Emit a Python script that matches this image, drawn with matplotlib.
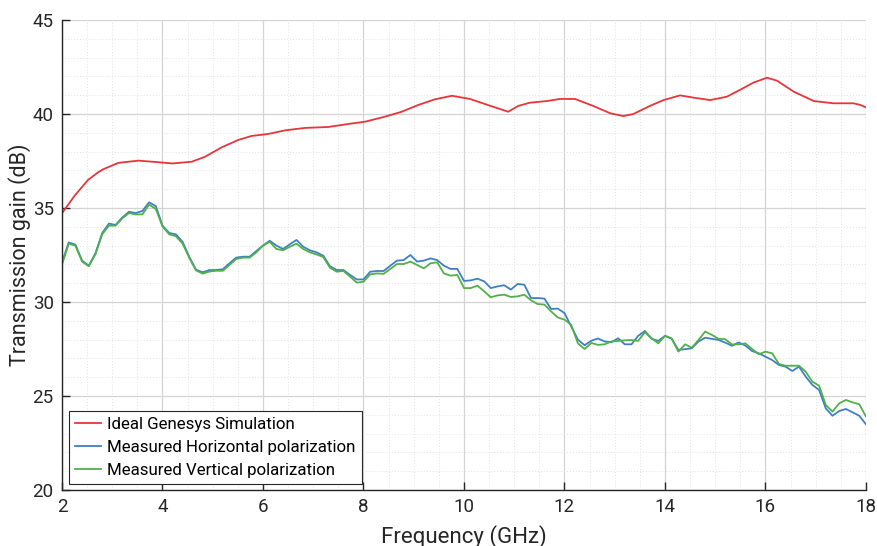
import numpy as np
import matplotlib
matplotlib.use("Agg")
import matplotlib.pyplot as plt
from matplotlib.ticker import MultipleLocator

# ---- data ----
red_freq = [2.0, 2.25, 2.52, 2.72, 2.82, 3.12, 3.52, 3.85, 4.2, 4.58, 4.85, 5.18, 5.51, 5.77,
            6.11, 6.44, 6.84, 7.30, 7.70, 8.03, 8.43, 8.76, 9.09, 9.42, 9.76, 10.12, 10.45,
            10.88, 11.08, 11.31, 11.65, 11.91, 12.21, 12.57, 12.91, 13.17, 13.37, 13.70,
            13.97, 14.30, 14.57, 14.90, 15.23, 15.49, 15.76, 16.03, 16.23, 16.56, 16.96,
            17.35, 17.75, 17.89, 18.0]
red_gain = [34.72, 35.65, 36.5, 36.9, 37.06, 37.4, 37.52, 37.45, 37.37, 37.46, 37.73, 38.23,
            38.62, 38.83, 38.94, 39.13, 39.26, 39.31, 39.47, 39.59, 39.86, 40.12, 40.48,
            40.78, 40.97, 40.8, 40.5, 40.12, 40.43, 40.6, 40.69, 40.8, 40.8, 40.43, 40.04,
            39.89, 40.0, 40.43, 40.74, 40.99, 40.87, 40.74, 40.92, 41.28, 41.67, 41.93,
            41.77, 41.19, 40.69, 40.57, 40.57, 40.48, 40.35]

meas_freq = np.linspace(2, 18, 121)
horiz_gain = [32.1, 33.17, 33.05, 32.2, 31.93, 32.6, 33.67, 34.17, 34.1, 34.5,
              34.8, 34.73, 34.84, 35.3, 35.1, 34.06, 33.67, 33.6, 33.2, 32.4,
              31.72, 31.58, 31.7, 31.7, 31.74, 32.06, 32.36, 32.41, 32.41, 32.71,
              33.0, 33.26, 33.0, 32.82, 33.07, 33.3, 32.94, 32.75, 32.64, 32.46,
              31.9, 31.7, 31.7, 31.44, 31.2, 31.2, 31.61, 31.65, 31.65, 31.93,
              32.2, 32.23, 32.5, 32.15, 32.2, 32.32, 32.23, 31.93, 31.76, 31.76,
              31.12, 31.15, 31.24, 31.1, 30.74, 30.83, 30.89, 30.66, 30.96, 30.92,
              30.21, 30.21, 30.18, 29.63, 29.65, 29.41, 28.7, 28.0, 27.7, 27.94,
              28.06, 27.9, 27.86, 28.07, 27.75, 27.75, 28.2, 28.46, 28.04, 27.93,
              28.2, 28.04, 27.45, 27.49, 27.54, 27.9, 28.1, 28.04, 27.98, 27.84,
              27.67, 27.85, 27.68, 27.39, 27.27, 27.09, 26.91, 26.65, 26.56, 26.33,
              26.56, 26.03, 25.59, 25.32, 24.34, 23.95, 24.2, 24.31, 24.13, 23.95,
              23.49]
vert_gain = [32.0, 33.1, 33.0, 32.15, 31.9, 32.55, 33.6, 34.06, 34.06, 34.45,
             34.73, 34.66, 34.66, 35.18, 34.95, 34.02, 33.6, 33.5, 33.1, 32.35,
             31.68, 31.51, 31.62, 31.66, 31.66, 31.97, 32.29, 32.36, 32.36, 32.64,
             33.0, 33.2, 32.82, 32.75, 32.94, 33.1, 32.82, 32.64, 32.53, 32.39,
             31.82, 31.61, 31.65, 31.35, 31.03, 31.08, 31.47, 31.52, 31.5, 31.76,
             32.02, 32.02, 32.15, 31.97, 31.79, 32.06, 32.11, 31.52, 31.4, 31.44,
             30.74, 30.74, 30.87, 30.57, 30.25, 30.35, 30.39, 30.27, 30.3, 30.39,
             30.09, 29.89, 29.86, 29.5, 29.18, 29.06, 28.79, 27.8, 27.5, 27.82,
             27.72, 27.75, 27.9, 27.93, 27.96, 27.98, 27.93, 28.39, 28.07, 27.8,
             28.2, 28.07, 27.36, 27.75, 27.57, 27.98, 28.43, 28.25, 28.04, 28.02,
             27.74, 27.75, 27.8, 27.5, 27.22, 27.36, 27.27, 26.7, 26.61, 26.61,
             26.61, 26.29, 25.76, 25.55, 24.52, 24.17, 24.61, 24.79, 24.66, 24.56,
             23.9]

labels = ["Ideal Genesys Simulation",
          "Measured Horizontal polarization",
          "Measured Vertical polarization"]
x_ticks = [2, 4, 6, 8, 10, 12, 14, 16, 18]
y_ticks = [20, 25, 30, 35, 40, 45]

# ---- plot ----
plt.rcParams['font.family'] = ['Roboto', 'DejaVu Sans']
fig = plt.figure(figsize=(8.78, 5.46), dpi=100)
ax = fig.add_axes([62/878, 1-490/546, (866-62)/878, (490-20)/546])

c_red, c_blue, c_green = "#E8353A", "#3F80C4", "#52B04A"
ax.plot(red_freq, red_gain, color=c_red, lw=1.3, label=labels[0])
ax.plot(meas_freq, horiz_gain, color=c_blue, lw=1.3, label=labels[1])
ax.plot(meas_freq, vert_gain, color=c_green, lw=1.3, label=labels[2])

ax.set_xlim(2, 18)
ax.set_ylim(20, 45)
ax.set_xticks(x_ticks)
ax.set_yticks(y_ticks)
ax.xaxis.set_minor_locator(MultipleLocator(0.5))
ax.yaxis.set_minor_locator(MultipleLocator(1))
ax.grid(True, which='major', color='#d4d4d4', lw=0.9)
ax.grid(True, which='minor', color='#e2e2e2', lw=0.7, ls=(0, (1, 2)))
ax.set_axisbelow(True)

for s in ['top', 'right']:
    ax.spines[s].set_visible(False)
for s in ['left', 'bottom']:
    ax.spines[s].set_color('#262626')
    ax.spines[s].set_linewidth(1.0)

ax.tick_params(which='major', direction='in', length=6, width=1.0, colors='#262626',
               labelsize=13.5, pad=6)
ax.tick_params(which='minor', length=0)

ax.set_xlabel("Frequency (GHz)", fontsize=16, color='#262626', labelpad=6)
ax.set_ylabel("Transmission gain (dB)", fontsize=15.5, color='#262626', va='center')
ax.yaxis.set_label_coords((20 - 62) / 804, 0.5)

leg = ax.legend(loc='lower left', fontsize=12.2, frameon=True, fancybox=False,
                edgecolor='#262626', framealpha=1, borderpad=0.38, labelspacing=0.45,
                handlelength=1.5, handletextpad=0.35, borderaxespad=0)
leg.get_frame().set_linewidth(0.8)
leg.set_bbox_to_anchor((69/878, 1-484/546), transform=fig.transFigure)

fig.savefig("out.png", dpi=100)
